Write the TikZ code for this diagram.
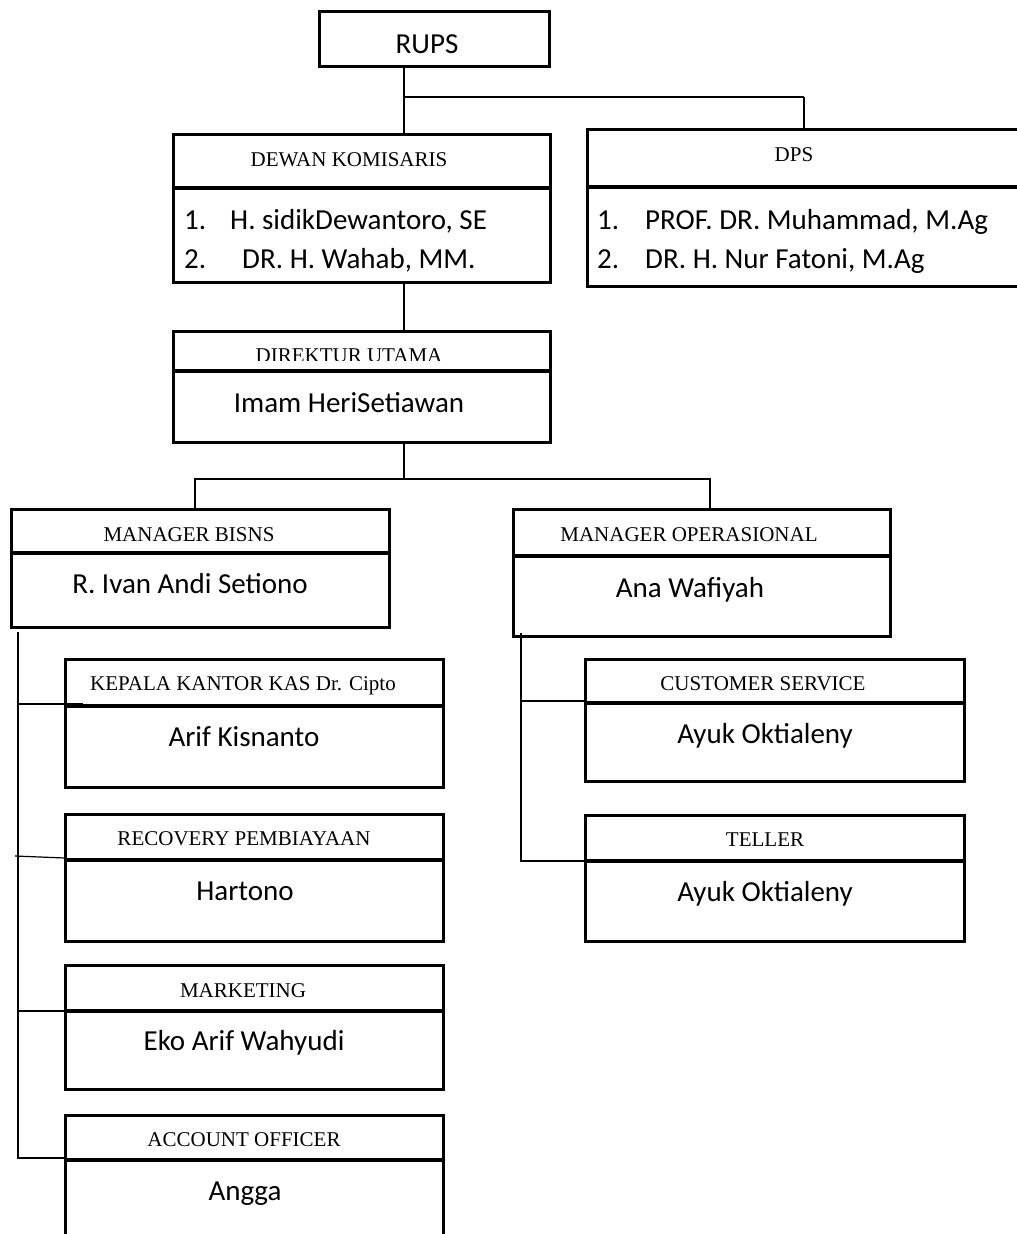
\documentclass[tikz,border=0pt]{standalone}
\usepackage{fontspec}
\setmainfont{Liberation Serif}
\newfontfamily\calfont{Carlito}
\begin{document}
\begin{tikzpicture}[x=1pt,y=-1pt,
  box/.style={draw, line width=3pt, inner sep=0pt, outer sep=0pt, anchor=north west},
  divider/.style={line width=3.3pt},
  link/.style={line width=1.2pt},
  thicklink/.style={line width=2pt},
  ttl/.style={font=\fontsize{21}{25}\selectfont, anchor=base, inner sep=0pt},
  nm/.style={font=\calfont\fontsize{29}{35}\selectfont, anchor=base, inner sep=0pt},
  lst/.style={font=\calfont\fontsize{29}{35}\selectfont, anchor=base west, inner sep=0pt}]
\useasboundingbox (0,0) rectangle (1017,1234);
\clip (0,0) rectangle (1017,1234);
\fill[white] (0,0) rectangle (1017,1234);

% boxes
\node[box, minimum width=230pt, minimum height=55pt] (rups) at (319,11) {};
\node[box, minimum width=377pt, minimum height=148pt] (dk) at (173,134) {};
\node[box, minimum width=443pt, minimum height=157pt] (dps) at (587,129) {};
\node[box, minimum width=377pt, minimum height=111pt] (du) at (173,331) {};
\node[box, minimum width=378pt, minimum height=118pt] (mb) at (11,509) {};
\node[box, minimum width=377pt, minimum height=127pt] (mo) at (513,509) {};
\node[box, minimum width=378pt, minimum height=128pt] (kk) at (65,659) {};
\node[box, minimum width=379pt, minimum height=122pt] (cs) at (585,659) {};
\node[box, minimum width=379pt, minimum height=126pt] (tl) at (585,815) {};
\node[box, minimum width=378pt, minimum height=127pt] (rp) at (65,814) {};
\node[box, minimum width=378pt, minimum height=124pt] (mk) at (65,965) {};
\node[box, minimum width=378pt, minimum height=145pt] (ao) at (65,1115) {};

% dividers
\draw[divider] (dk.west |- 0,188) -- (dk.east |- 0,188);
\draw[divider] (dps.west |- 0,187) -- (dps.east |- 0,187);
\draw[divider] (du.west |- 0,371) -- (du.east |- 0,371);
\draw[divider] (mb.west |- 0,553) -- (mb.east |- 0,553);
\draw[divider] (mo.west |- 0,556) -- (mo.east |- 0,556);
\draw[divider] (kk.west |- 0,706) -- (kk.east |- 0,706);
\draw[divider] (cs.west |- 0,703) -- (cs.east |- 0,703);
\draw[divider] (tl.west |- 0,861) -- (tl.east |- 0,861);
\draw[divider] (rp.west |- 0,860) -- (rp.east |- 0,860);
\draw[divider] (mk.west |- 0,1011) -- (mk.east |- 0,1011);
\draw[divider] (ao.west |- 0,1160) -- (ao.east |- 0,1160);

% texts
\node[nm] (trups) at (427,53) {RUPS};
\node[ttl] (tdk) at (349,166) {DEWAN KOMISARIS};
\node[lst] (dk1n) at (184,229) {1.};
\node[lst] (dk1) at (230,229) {H. sidikDewantoro, SE};
\node[lst] (dk2n) at (184,268) {2.};
\node[lst] (dk2) at (242,268) {DR. H. Wahab, MM.};
\node[ttl] (tdps) at (794,161) {DPS};
\node[lst] (dps1n) at (597,229) {1.};
\node[lst] (dps1) at (645,229) {PROF. DR. Muhammad, M.Ag};
\node[lst] (dps2n) at (597,268) {2.};
\node[lst] (dps2) at (645,268) {DR. H. Nur Fatoni, M.Ag};
\begin{scope}
  \clip (173,331) rectangle (550,360.5);
  \node[ttl] (tdu) at (349,362) {DIREKTUR UTAMA};
\end{scope}
\node[nm] (ndu) at (349,412) {Imam HeriSetiawan};
\node[ttl] (tmb) at (189,541) {MANAGER BISNS};
\node[nm] (nmb) at (190,593) {R. Ivan Andi Setiono};
\node[ttl] (tmo) at (689,541) {MANAGER OPERASIONAL};
\node[nm] (nmo) at (690,597) {Ana Wafiyah};
\node[ttl] (tkk) at (243,690) {KEPALA KANTOR KAS Dr. Cipto};
\node[nm] (nkk) at (244,746) {Arif Kisnanto};
\node[ttl] (tcs) at (763,690) {CUSTOMER SERVICE};
\node[nm] (ncs) at (765,743) {Ayuk Oktialeny};
\node[ttl] (ttl) at (765,846) {TELLER};
\node[nm] (ntl) at (765,901) {Ayuk Oktialeny};
\node[ttl] (trp) at (244,845) {RECOVERY PEMBIAYAAN};
\node[nm] (nrp) at (245,900) {Hartono};
\node[ttl] (tmk) at (243,997) {MARKETING};
\node[nm] (nmk) at (244,1050) {Eko Arif Wahyudi};
\node[ttl] (tao) at (244,1146) {ACCOUNT OFFICER};
\node[nm] (nao) at (245,1200) {Angga};

% connectors
\coordinate (jr) at (404,97);
\coordinate (jd) at (804,97);
\draw[link] (jr |- rups.south) -- (jr |- dk.north);
\draw[thicklink] (jr) -- (jd);
\draw[link] (jd) -- (jd |- dps.north);
\draw[link] (jr |- dk.south) -- (jr |- du.north);
\coordinate (jm) at (404,479);
\coordinate (jmb) at (195,479);
\coordinate (jmo) at (710,479);
\draw[link] (jm |- du.south) -- (jm);
\draw[link] (jmb |- mb.north) -- (jmb) -- (jmo) -- (jmo |- mo.north);

% left bus
\coordinate (lb) at (18,632);
\coordinate (lbe) at (18,1158);
\coordinate (kkstub) at (83,704);
\coordinate (rpstart) at (15,856);
\draw[link] (lb) -- (lbe) -- (lbe -| ao.west);
\draw[link] (kkstub -| lb) -- (kkstub);
\draw[link] (rpstart) -- (rp.west |- 0,858);
\draw[link] (lb |- 0,1011) -- (mk.west |- 0,1011);

% right bus
\coordinate (rb) at (521,633);
\coordinate (rbe) at (521,861);
\draw[link] (rb) -- (rbe) -- (rbe -| tl.west);
\draw[link] (rb |- 0,701) -- (cs.west |- 0,701);
\end{tikzpicture}
\end{document}
